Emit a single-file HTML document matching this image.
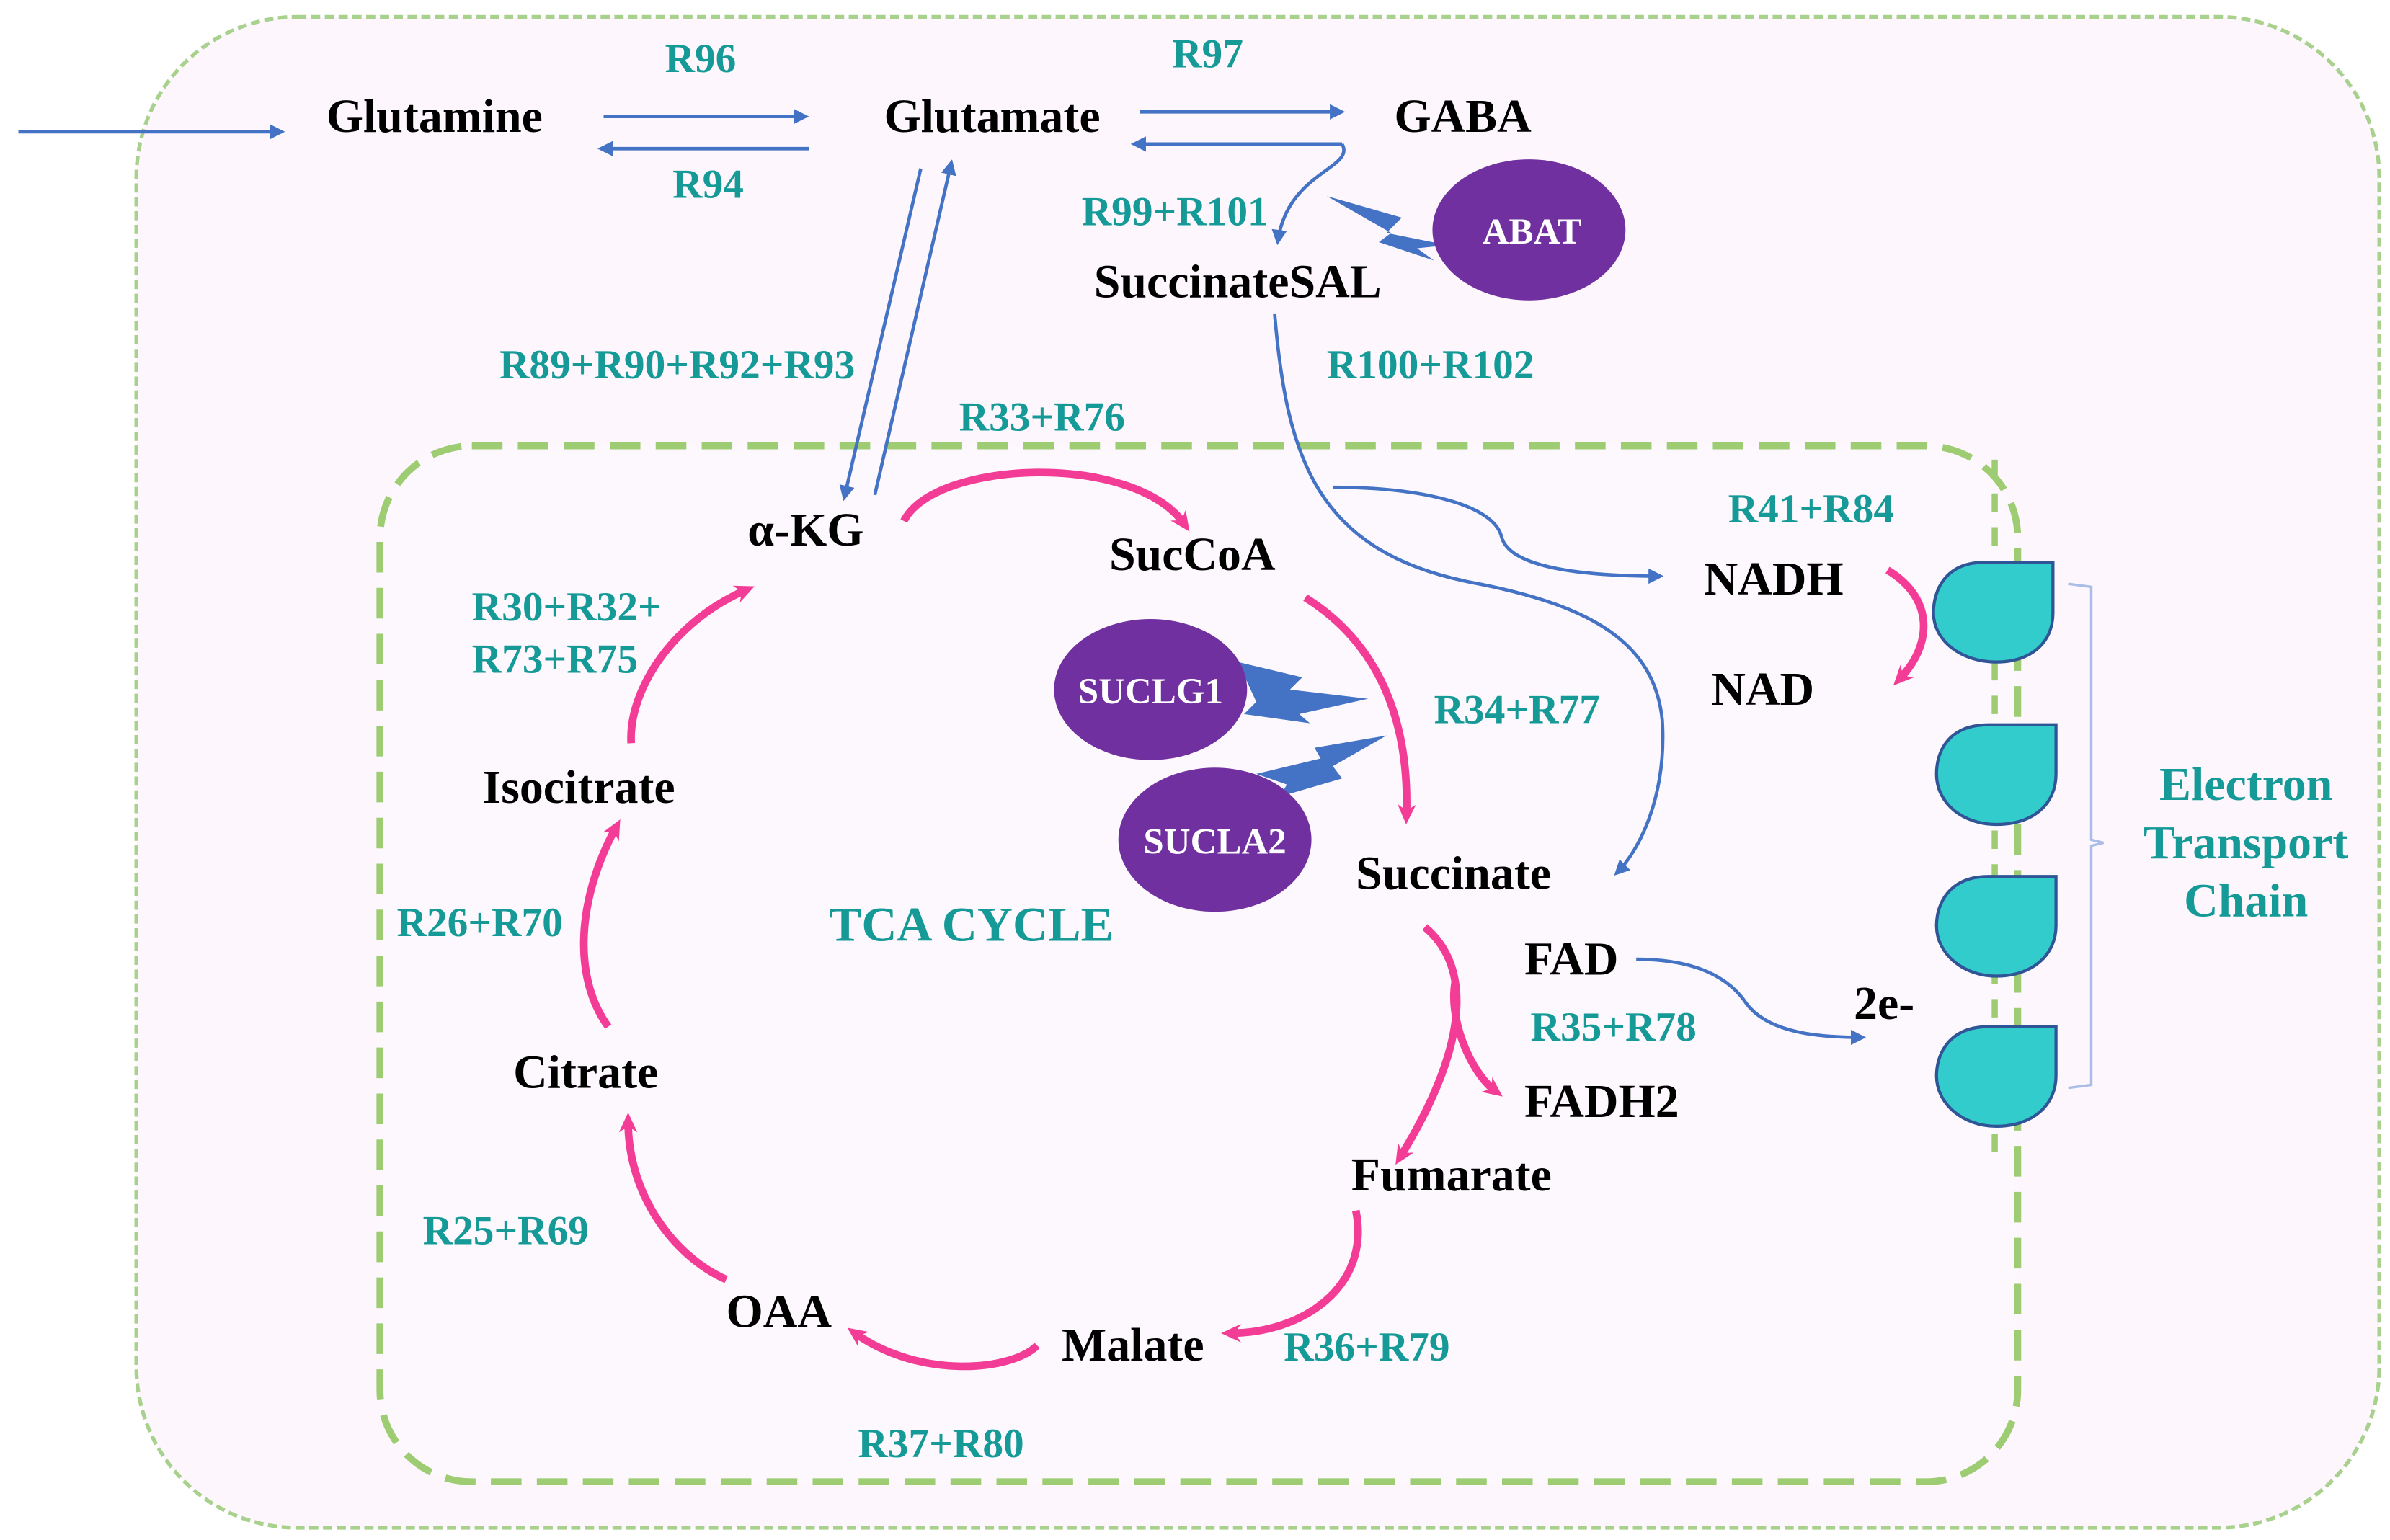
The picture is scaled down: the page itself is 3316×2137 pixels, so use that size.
<!DOCTYPE html>
<html><head><meta charset="utf-8"><style>
html,body{margin:0;padding:0;background:#fff;}
svg{display:block;}
.b{font-family:"Liberation Serif",serif;font-weight:bold;font-size:31px;fill:#000;}
.t{font-family:"Liberation Serif",serif;font-weight:bold;font-size:27px;fill:#159a98;}
.e{font-family:"Liberation Serif",serif;font-weight:bold;font-size:24px;fill:#fff;}
.bl{fill:none;stroke:#4472c4;stroke-width:2.2;}
.pk{fill:none;stroke:#f23c96;stroke-width:5;}
</style></head><body>
<svg width="3316" height="2137" viewBox="0 0 1560 1005" preserveAspectRatio="none" xmlns="http://www.w3.org/2000/svg">
<defs>
<marker id="a" markerWidth="10" markerHeight="10" refX="8" refY="5" orient="auto" markerUnits="userSpaceOnUse"><path d="M0,0 L10,5 L0,10 Z" fill="#4472c4"/></marker>
<marker id="p" markerWidth="14" markerHeight="14" refX="7" refY="7" orient="auto" markerUnits="userSpaceOnUse"><path d="M0,1 L13,7 L0,13 L4,7 Z" fill="#f23c96"/></marker>
</defs>
<rect x="0" y="0" width="1560" height="1005" fill="#fff"/>
<rect x="89" y="11" width="1464" height="986" rx="105" fill="#fdf6fc" stroke="#a9d18e" stroke-width="2.5" stroke-dasharray="6,3"/>
<rect x="248" y="291" width="1069" height="676" rx="60" fill="#fdf8fd" stroke="#9dcc72" stroke-width="4.5" stroke-dasharray="20,10"/>

<g transform="translate(0,2)">
<text class="b" x="213" y="84">Glutamine</text>
<text class="b" x="577" y="84">Glutamate</text>
<text class="b" x="910" y="84">GABA</text>
<text class="b" x="714" y="192">SuccinateSAL</text>
<text class="b" x="488" y="354">α-KG</text>
<text class="b" x="724" y="370">SucCoA</text>
<text class="b" x="1112" y="386">NADH</text>
<text class="b" x="1117" y="458">NAD</text>
<text class="b" x="315" y="522">Isocitrate</text>
<text class="b" x="885" y="578">Succinate</text>
<text class="b" x="995" y="634">FAD</text>
<text class="b" x="1210" y="663">2e-</text>
<text class="b" x="995" y="727">FADH2</text>
<text class="b" x="335" y="708">Citrate</text>
<text class="b" x="882" y="775">Fumarate</text>
<text class="b" x="474" y="864">OAA</text>
<text class="b" x="693" y="886">Malate</text>
</g>
<g transform="translate(0,1)">
<text class="t" x="434" y="46">R96</text>
<text class="t" x="439" y="128">R94</text>
<text class="t" x="765" y="43">R97</text>
<text class="t" x="706" y="146">R99+R101</text>
<text class="t" x="866" y="246">R100+R102</text>
<text class="t" x="326" y="246">R89+R90+R92+R93</text>
<text class="t" x="626" y="280">R33+R76</text>
<text class="t" x="1128" y="340">R41+R84</text>
<text class="t" x="308" y="404">R30+R32+</text>
<text class="t" x="308" y="438">R73+R75</text>
<text class="t" x="936" y="471">R34+R77</text>
<text class="t" x="259" y="610">R26+R70</text>
<text class="t" x="541" y="613" style="font-size:32px">TCA CYCLE</text>
<text class="t" x="999" y="678">R35+R78</text>
<text class="t" x="276" y="811">R25+R69</text>
<text class="t" x="838" y="887">R36+R79</text>
<text class="t" x="560" y="950">R37+R80</text>
<text class="t" x="1466" y="521" style="font-size:31px" text-anchor="middle">Electron</text>
<text class="t" x="1466" y="559" style="font-size:31px" text-anchor="middle">Transport</text>
<text class="t" x="1466" y="597" style="font-size:31px" text-anchor="middle">Chain</text>
</g>

<path class="bl" d="M12,86 L184,86" marker-end="url(#a)"/>
<path class="bl" d="M394,76 L526,76" marker-end="url(#a)"/>
<path class="bl" d="M528,97 L392,97" marker-end="url(#a)"/>
<path class="bl" d="M744,73 L876,73" marker-end="url(#a)"/>
<path class="bl" d="M876,94 L740,94" marker-end="url(#a)"/>
<path class="bl" d="M876,94 C885,110 840,112 834,158" marker-end="url(#a)"/>
<path class="bl" d="M601,110 L551,325" marker-end="url(#a)"/>
<path class="bl" d="M571,323 L621,106" marker-end="url(#a)"/>
<path class="bl" d="M832,205 C840,300 860,360 960,380 C1040,395 1080,420 1085,470 C1088,520 1070,555 1055,570" marker-end="url(#a)"/>
<path class="bl" d="M870,318 C930,318 975,330 980,350 C985,372 1040,376 1084,376" marker-end="url(#a)"/>
<path class="bl" d="M1068,626 C1110,626 1130,640 1140,655 C1155,675 1190,677 1216,677" marker-end="url(#a)"/>

<path class="pk" d="M590,340 C610,300 740,295 773,342" marker-end="url(#p)"/>
<path class="pk" d="M852,390 C900,420 920,470 918,532" marker-end="url(#p)"/>
<path class="pk" d="M930,605 C960,630 960,680 914,755" marker-end="url(#p)"/>
<path class="pk" d="M950,640 C945,665 960,700 976,712" marker-end="url(#p)"/>
<path class="pk" d="M885,790 C895,840 850,870 803,870" marker-end="url(#p)"/>
<path class="pk" d="M677,878 C660,895 600,900 558,870" marker-end="url(#p)"/>
<path class="pk" d="M474,835 C440,820 410,780 410,732" marker-end="url(#p)"/>
<path class="pk" d="M397,670 C375,640 375,590 402,540" marker-end="url(#p)"/>
<path class="pk" d="M412,485 C410,450 440,405 487,385" marker-end="url(#p)"/>
<path class="pk" d="M1232,372 C1262,390 1262,420 1240,443" marker-end="url(#p)"/>

<path d="M866,128 L915,142 L905,152 L945,160 L925,162 L936,170 L900,158 L908,152 Z" fill="#4472c4"/>
<path d="M808,432 L850,442 L842,450 L893,456 L848,466 L855,472 L812,466 L820,458 Z" fill="#4472c4"/>
<path d="M820,505 L862,495 L858,488 L905,480 L870,500 L876,508 L835,520 L840,512 Z" fill="#4472c4"/>

<ellipse cx="998" cy="150" rx="63" ry="46" fill="#7030a0"/>
<text class="e" x="1000" y="159" text-anchor="middle">ABAT</text>
<ellipse cx="751" cy="450" rx="63" ry="46" fill="#7030a0"/>
<text class="e" x="751" y="459" text-anchor="middle">SUCLG1</text>
<ellipse cx="793" cy="548" rx="63" ry="47" fill="#7030a0"/>
<text class="e" x="793" y="557" text-anchor="middle">SUCLA2</text>

<path d="M1302,300 L1302,760" stroke="#9dcc72" stroke-width="4" stroke-dasharray="12,10"/>
<g fill="#33cccc" stroke="#2f5597" stroke-width="2">
<path d="M1340,367 L1295,367 C1270,367 1262,385 1262,400 C1262,418 1280,432 1303,432 C1325,432 1340,420 1340,400 Z"/>
<path d="M1342,473 L1298,473 C1272,473 1264,490 1264,505 C1264,525 1282,538 1303,538 C1327,538 1342,525 1342,505 Z"/>
<path d="M1342,572 L1298,572 C1272,572 1264,590 1264,604 C1264,623 1282,637 1303,637 C1327,637 1342,623 1342,604 Z"/>
<path d="M1342,670 L1298,670 C1272,670 1264,688 1264,702 C1264,721 1282,735 1303,735 C1327,735 1342,721 1342,702 Z"/>
</g>
<path d="M1350,381 L1365,383 L1365,548 L1373,550 L1365,552 L1365,708 L1350,710" fill="none" stroke="#a9bde6" stroke-width="1.6"/>
</svg>
</body></html>
